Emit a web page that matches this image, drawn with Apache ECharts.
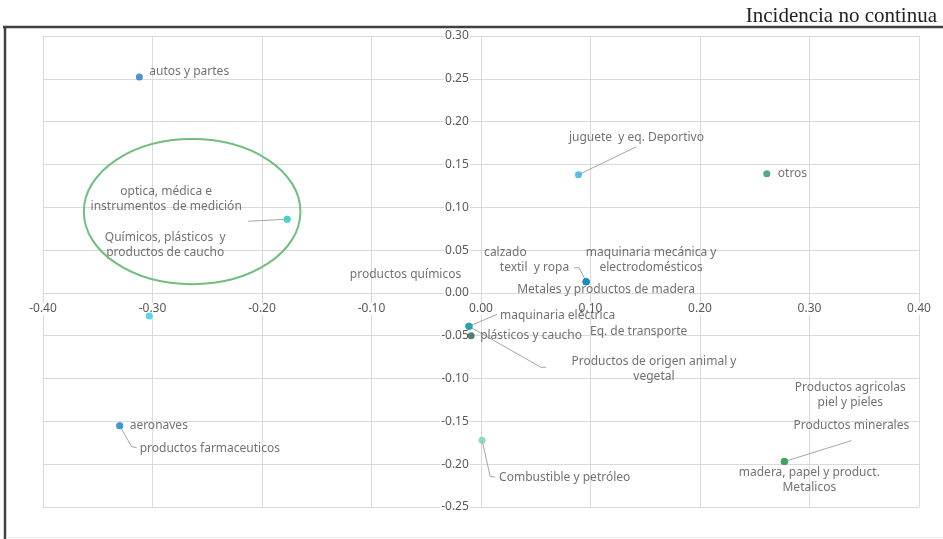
<!DOCTYPE html>
<html>
<head>
<meta charset="utf-8">
<script src="https://cdn.jsdelivr.net/npm/echarts@6/dist/echarts.min.js"></script>
<style>
  html, body { margin: 0; padding: 0; background: #fff; }
  #chart { width: 943px; height: 539px; }
</style>
</head>
<body>
<div id="chart"></div>
<script>
// Sectors and their incidence coordinates
const sectors = [
  'autos y partes',
  'optica, médica e\ninstrumentos  de medición',
  'Químicos, plásticos  y\nproductos de caucho',
  'productos químicos',
  'calzado',
  'textil  y ropa',
  'maquinaria mecánica y\nelectrodomésticos',
  'Metales y productos de madera',
  'maquinaria eléctrica',
  'Eq. de transporte',
  'Productos de origen animal y\nvegetal',
  'plásticos y caucho',
  'aeronaves',
  'productos farmaceuticos',
  'Combustible y petróleo',
  'juguete  y eq. Deportivo',
  'otros',
  'Productos agricolas\npiel y pieles',
  'Productos minerales',
  'madera, papel y product.\nMetalicos'
];
const incidenceX = [-0.312, -0.177, -0.177, -0.303, 0.096, 0.096, 0.096, 0.096,
  -0.011, -0.011, -0.011, -0.009, -0.330, -0.330, 0.001, 0.089, 0.261, 0.277, 0.277, 0.277];
const incidenceY = [0.252, 0.086, 0.086, -0.027, 0.013, 0.013, 0.013, 0.013,
  -0.039, -0.039, -0.039, -0.050, -0.155, -0.155, -0.172, 0.138, 0.139, -0.197, -0.197, -0.197];
const pointColors = ['#1e7cb8', '#45cfc9', '#45cfc9', '#2ecde2', '#1b8cc2', '#1b8cc2', '#1b8cc2', '#1b8cc2',
  '#2aa0b0', '#2aa0b0', '#2aa0b0', '#2a6352', '#3a92d6', '#3a92d6', '#6ed4aa', '#2ab0ea', '#2e8f6e',
  '#3ca35c', '#3ca35c', '#3ca35c'];

// Axis ticks
const xTicks = { min: -0.4, max: 0.4, step: 0.1 };
const yTicks = { min: -0.25, max: 0.3, step: 0.05 };

// Label anchor offsets (px from the point) and text alignment
const labelPlacement = [
  [10, -6, 'left'], [-121, -20, 'center'], [-122, 26, 'center'], [312, -41, 'right'],
  [-102, -29, 'left'], [-17, -14, 'right'], [65, -22, 'center'], [20, 8, 'center'],
  [31, -11, 'left'], [121, 5, 'left'], [185, 43, 'center'], [9, 0, 'left'],
  [10, 0, 'left'], [20, 23, 'left'], [17, 37, 'left'], [58, -37, 'center'],
  [11, 0, 'left'], [66, -67, 'center'], [67, -36, 'center'], [25, 18, 'center']
];
// Leader lines: point index -> bends (px from the point)
const leaderLines = [
  [2, [[-39, 2]]],
  [5, [[-7, -14], [-12, -14]]],
  [8, [[28, -12]]],
  [10, [[72, 41], [77, 41]]],
  [13, [[12, 21], [17, 22]]],
  [14, [[8, 36], [13, 37]]],
  [15, [[58, -28]]],
  [18, [[67, -21]]]
];

const chart = echarts.init(document.getElementById('chart'));
const font = '"Noto Sans", sans-serif';
const textColor = '#4d4d4d';
const gridColor = '#d9d9d9';
const gridBox = { left: 43, right: 24, top: 36, bottom: 32 };

const points = sectors.map((name, i) => ({
  name,
  value: [incidenceX[i], incidenceY[i]],
  itemStyle: { color: pointColors[i] },
  label: {
    show: true,
    position: 'inside',
    offset: [labelPlacement[i][0], labelPlacement[i][1]],
    align: labelPlacement[i][2],
    verticalAlign: 'middle'
  }
}));

const axisLabel = (margin) => ({
  fontFamily: font, fontSize: 12, color: '#595959', margin,
  backgroundColor: '#fff', padding: [0, 1],
  formatter: v => v.toFixed(2)
});

chart.setOption({
  animation: false,
  backgroundColor: '#fff',
  title: {
    text: 'Incidencia no continua',
    right: 1, top: 1,
    textStyle: { fontFamily: '"Liberation Serif", serif', fontSize: 21, fontWeight: 'normal', color: '#222' }
  },
  grid: gridBox,
  xAxis: {
    type: 'value', min: xTicks.min, max: xTicks.max, interval: xTicks.step,
    axisLine: { show: false, onZero: false },
    axisTick: { show: false },
    axisLabel: axisLabel(10),
    splitLine: { show: true, lineStyle: { color: gridColor } }
  },
  yAxis: {
    type: 'value', min: yTicks.min, max: yTicks.max, interval: yTicks.step,
    axisLine: { show: false, onZero: false },
    axisTick: { show: false },
    axisLabel: axisLabel(12),
    splitLine: { show: true, lineStyle: { color: gridColor } }
  },
  series: [{
    type: 'scatter',
    symbolSize: 7,
    z: 3,
    data: points,
    label: {
      fontFamily: font, fontSize: 12, color: textColor, lineHeight: 15,
      formatter: p => p.name
    },
    emphasis: { disabled: true }
  }]
});

// Move both axes so they cross at the origin
const origin = chart.convertToPixel({ gridIndex: 0 }, [0, 0]);
chart.setOption({
  xAxis: { offset: -((539 - gridBox.bottom) - origin[1]) },
  yAxis: { offset: -(origin[0] - gridBox.left) }
});

// Frame, ellipse highlight and leader lines
const px = (x, y) => chart.convertToPixel({ seriesIndex: 0 }, [x, y]);
const graphics = [
  { type: 'line', shape: { x1: 3, y1: 27, x2: 943, y2: 27 }, style: { stroke: '#404040', lineWidth: 2.5 }, z: 10 },
  { type: 'line', shape: { x1: 5, y1: 26, x2: 5, y2: 539 }, style: { stroke: '#404040', lineWidth: 2.5 }, z: 10 },
  { type: 'line', shape: { x1: 6, y1: 537.5, x2: 943, y2: 537.5 }, style: { stroke: '#ececec', lineWidth: 1 }, z: 10 }
];

const ellC = px(-0.2638, 0.0949);
const ellE = px(-0.2638 + 0.0989, 0.0949 - 0.0847);
graphics.push({
  type: 'ellipse',
  shape: { cx: ellC[0], cy: ellC[1], rx: ellE[0] - ellC[0], ry: ellE[1] - ellC[1] },
  style: { fill: null, stroke: '#72bd80', lineWidth: 2 },
  z: 5
});

leaderLines.forEach(([i, bends]) => {
  const p = px(incidenceX[i], incidenceY[i]);
  const pts = [p].concat(bends.map(b => [p[0] + b[0], p[1] + b[1]]));
  graphics.push({
    type: 'polyline',
    shape: { points: pts },
    style: { fill: null, stroke: '#a6a6a6', lineWidth: 1 },
    z: 2
  });
});

chart.setOption({ graphic: graphics });
</script>
</body>
</html>
